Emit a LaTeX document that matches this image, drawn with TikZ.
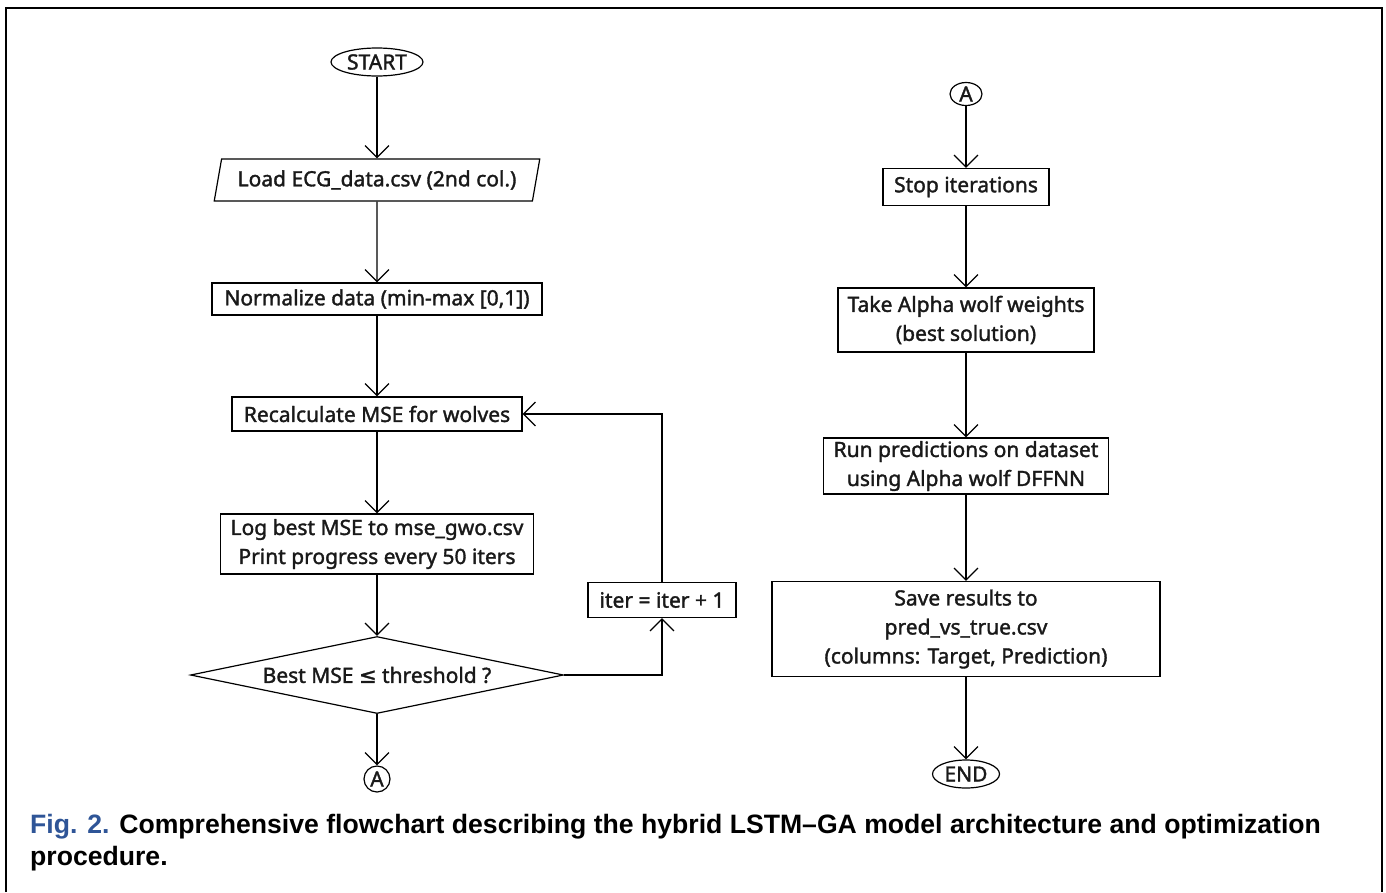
\documentclass[tikz,border=0pt]{standalone}
\usepackage{fontspec}
\setmainfont{Noto Sans}[FakeBold=1.6]
\newfontfamily\capfont{Liberation Sans}
\newfontfamily\symfont{DejaVu Sans}[FakeBold=1.6]
\usetikzlibrary{shapes.geometric,arrows.meta}
\definecolor{figblue}{RGB}{47,85,151}
\definecolor{ink}{RGB}{25,25,25}
\begin{document}
\begin{tikzpicture}[x=1pt,y=-1pt,
  every node/.style={font=\fontsize{21}{29}\selectfont, text=ink},
  proc/.style={draw, rectangle, line width=1.2pt, inner sep=2pt, align=center},
  term/.style={draw, ellipse, line width=1.2pt, inner sep=0pt},
  iobox/.style={draw, trapezium, trapezium left angle=74, trapezium right angle=106,
     trapezium stretches=true, line width=1.2pt, inner sep=2pt},
  decision/.style={draw, diamond, line width=1.2pt, inner sep=0pt, aspect=4.8},
  conn/.style={line width=1.2pt, -{Straight Barb[length=12pt,width=24pt,line width=1.2pt]}},
  captext/.style={anchor=base west, inner sep=0pt, text=black,
     font=\capfont\bfseries\fontsize{26.6}{30}\selectfont}
]
\useasboundingbox (0,0) rectangle (1386,892);
% outer frame (open at the bottom)
\draw[line width=2pt] (6,892) -- (6,8) -- (1382,8) -- (1382,892);

% left column
\node[term, minimum width=92pt, minimum height=28pt] (start) at (377,62) {START};
\node[iobox, minimum width=326pt, minimum height=42pt] (load) at (377,180) {Load ECG\_data.csv (2nd col.)};
\node[proc, minimum width=330pt, minimum height=32pt] (norm) at (377,299) {Normalize data (min-max [0,1])};
\node[proc, minimum width=290pt, minimum height=34pt] (recalc) at (377,414) {Recalculate MSE for wolves};
\node[proc, minimum width=313pt, minimum height=60pt] (log) at (377,544) {Log best MSE to mse\_gwo.csv\\Print progress every 50 iters};
\node[decision, minimum width=373pt, minimum height=77pt] (dec) at (377,675) {Best MSE {\symfont ≤} threshold ?};
\node[draw, circle, line width=1.2pt, minimum size=26pt, inner sep=0pt] (aout) at (377,779) {A};
\node[proc, minimum width=148pt, minimum height=35pt] (iter) at (662,600) {iter = iter + 1};
\coordinate (c1) at (662,675);
\coordinate (c2) at (662,414);

% right column
\node[term, minimum width=32pt, minimum height=23pt] (ain) at (966,94) {A};
\node[proc, minimum width=166pt, minimum height=37pt] (stop) at (966,187) {Stop iterations};
\node[proc, minimum width=256pt, minimum height=64pt] (take) at (966,320) {Take Alpha wolf weights\\(best solution)};
\node[proc, minimum width=285pt, minimum height=56pt] (run) at (966,466) {Run predictions on dataset\\using Alpha wolf DFFNN};
\node[proc, minimum width=388pt, minimum height=95pt] (save) at (966,629) {Save results to\\pred\_vs\_true.csv\\(columns: Target, Prediction)};
\node[term, minimum width=67pt, minimum height=28pt] (end) at (966,774) {END};

% connectors
\draw[conn] (start) -- (load);
\draw[conn] (load) -- (norm);
\draw[conn] (norm) -- (recalc);
\draw[conn] (recalc) -- (log);
\draw[conn] (log) -- (dec);
\draw[conn] (dec) -- (aout);
\draw[conn] (dec.east) -- (c1) -- (iter.south);
\draw[conn] (iter.north) -- (c2) -- (recalc.east);
\draw[conn] (ain) -- (stop);
\draw[conn] (stop) -- (take);
\draw[conn] (take) -- (run);
\draw[conn] (run) -- (save);
\draw[conn] (save) -- (end);

% caption
\node[captext] (cap1) at (30,833) {\textcolor{figblue}{Fig. 2.} Comprehensive flowchart describing the hybrid LSTM–GA model architecture and optimization};
\node[captext] (cap2) at (30,865) {procedure.};
\end{tikzpicture}
\end{document}
